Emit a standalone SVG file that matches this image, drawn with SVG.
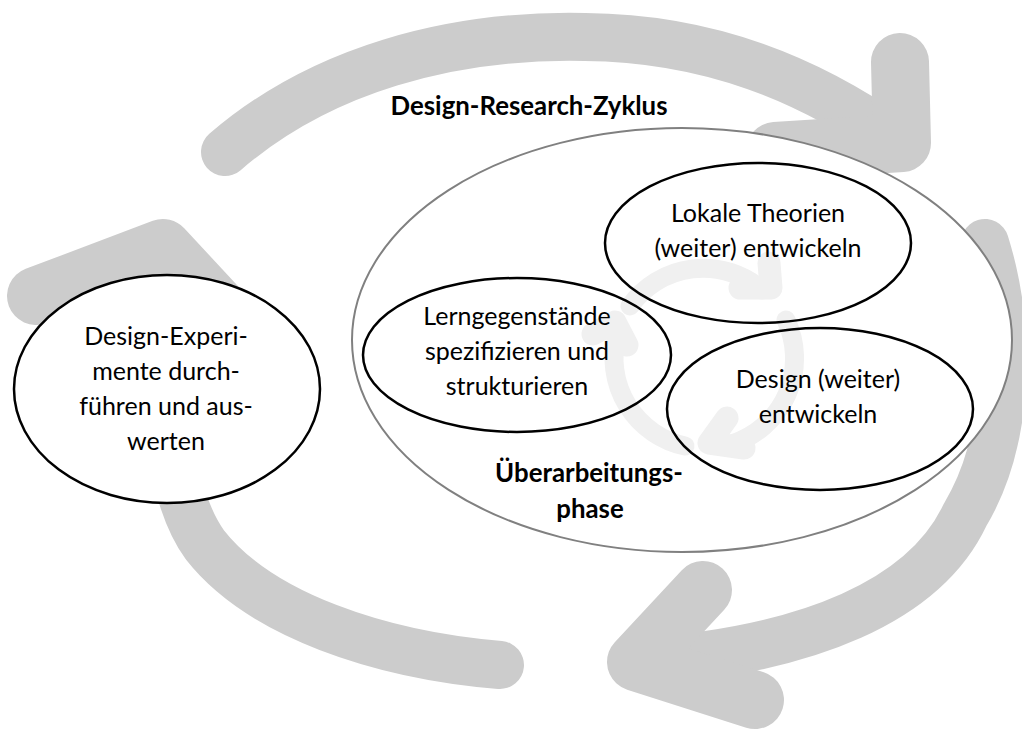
<svg xmlns="http://www.w3.org/2000/svg" width="1022" height="735" viewBox="0 0 1022 735">
  <style>
    .band { fill: none; stroke: #cccccc; stroke-width: 48; stroke-linecap: round; stroke-linejoin: round; }
    .head { fill: none; stroke: #cccccc; stroke-width: 58; stroke-linecap: round; stroke-linejoin: round; }
    .fband { fill: none; stroke: #f0f0f0; stroke-width: 19; stroke-linecap: round; stroke-linejoin: round; }
    .fhead { fill: none; stroke: #f0f0f0; stroke-width: 23; stroke-linecap: round; stroke-linejoin: round; }
    .node { fill: none; stroke: #000000; stroke-width: 2.5; }
    .lbl { font-family: Lato, "Open Sans", sans-serif; font-size: 25px; fill: #000000; text-anchor: middle; }
    .bold { font-weight: bold; font-size: 25.8px; }
  </style>
  <rect width="1022" height="735" fill="#ffffff"/>

  <!-- outer cycle: three curved arrows -->
  <g id="connectors">
    <!-- top arc -->
    <path class="band" d="M225,152 C320,70 450,34 585,37 C710,38 810,80 895,140"/>
    <polyline class="head" points="900,62 902,143 775,151"/>
    <!-- right arc -->
    <path class="band" d="M985,243 C1012,330 1010,440 965,515 C925,600 810,650 640,662"/>
    <polyline class="head" points="703,590 636,662 755,700"/>
    <!-- left arc -->
    <path class="band" d="M500,665 C380,655 260,615 205,545 C165,490 160,380 165,250"/>
    <polyline class="head" points="36,296 163,248 228,318"/>
  </g>

  <!-- revision phase container -->
  <g id="phase">
    <ellipse cx="682" cy="340" rx="330" ry="212" fill="#ffffff" stroke="#808080" stroke-width="2"/>
    <!-- inner faint cycle -->
    <g id="inner-cycle">
      <path class="fband" d="M630,306 A90,90 0 0 1 762,290"/>
      <polyline class="fhead" points="769,263 771,288 740,288"/>
      <path class="fband" d="M786,320 A90,90 0 0 1 732,444"/>
      <polyline class="fhead" points="727,418 709,443 744,448"/>
      <path class="fband" d="M685,446 A90,90 0 0 1 617,335"/>
      <polyline class="fhead" points="593,334 615,322 627,345"/>
    </g>
    <text class="lbl bold" x="589" y="482">Überarbeitungs-</text>
    <text class="lbl bold" x="590" y="518">phase</text>
  </g>

  <g id="lokale-theorien">
    <ellipse class="node" cx="758" cy="243" rx="153" ry="80"/>
    <text class="lbl" x="758" y="222">Lokale Theorien</text>
    <text class="lbl" x="758" y="257">(weiter) entwickeln</text>
  </g>

  <g id="lerngegenstaende">
    <ellipse class="node" cx="517" cy="355" rx="154" ry="77"/>
    <text class="lbl" x="517" y="325">Lerngegenstände</text>
    <text class="lbl" x="517" y="360">spezifizieren und</text>
    <text class="lbl" x="517" y="395">strukturieren</text>
  </g>

  <g id="design">
    <ellipse class="node" cx="820" cy="409" rx="153" ry="81"/>
    <text class="lbl" x="818" y="388">Design (weiter)</text>
    <text class="lbl" x="818" y="423">entwickeln</text>
  </g>

  <g id="design-experimente">
    <ellipse cx="167" cy="389" rx="153" ry="114" fill="#ffffff" stroke="#000000" stroke-width="2.5"/>
    <text class="lbl" x="166" y="345">Design-Experi-</text>
    <text class="lbl" x="166" y="380">mente durch-</text>
    <text class="lbl" x="166" y="415">führen und aus-</text>
    <text class="lbl" x="166" y="450">werten</text>
  </g>

  <g id="title">
    <text class="lbl bold" x="529" y="115">Design-Research-Zyklus</text>
  </g>
</svg>
